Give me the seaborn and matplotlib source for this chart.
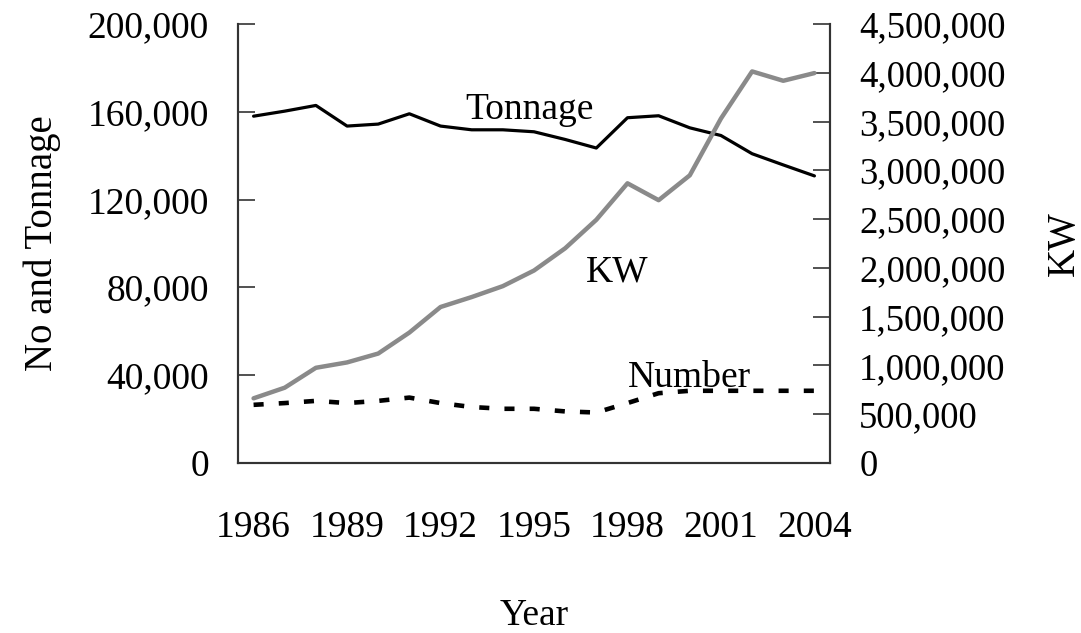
import numpy as np
import pandas as pd
import matplotlib
matplotlib.use('Agg')
import matplotlib.pyplot as plt
import seaborn as sns

years = list(range(1986, 2005))
tonnage = [158000, 160300, 162900, 153500, 154400, 159100, 153500, 151800, 151800, 150900,
           147400, 143500, 157300, 158200, 152700, 149200, 140900, 135800, 130800]
number = [26500, 27300, 28300, 27300, 28300, 29800, 27300, 25500, 24700, 24700,
          23500, 23000, 27300, 31800, 32900, 32900, 32900, 32900, 32900]
kw = [663000, 772000, 976000, 1031000, 1122000, 1337000, 1599000, 1701000, 1813000, 1973000,
      2201000, 2493000, 2867000, 2694000, 2949000, 3531000, 4014000, 3918000, 3997000]

left_ticks = [0, 40000, 80000, 120000, 160000, 200000]
right_ticks = list(range(0, 4500001, 500000))

df = pd.DataFrame({'Year': years, 'Tonnage': tonnage, 'Number': number, 'KW': kw})
df['pos'] = np.arange(len(df))

sns.set_style('white')
plt.rcParams['font.family'] = ['Liberation Serif', 'DejaVu Serif']
plt.rcParams.update({'text.color': 'black', 'axes.labelcolor': 'black',
                     'xtick.color': 'black', 'ytick.color': 'black'})
fs = 27

fig = plt.figure(figsize=(10.81, 6.33), dpi=100)
ax = fig.add_axes([238 / 1081, 1 - 463 / 633, (830 - 238) / 1081, (463 - 24) / 633])
ax2 = ax.twinx()

sns.lineplot(data=df, x='pos', y='Tonnage', ax=ax, color='black', linewidth=2.3)
sns.lineplot(data=df, x='pos', y='Number', ax=ax, color='black', linewidth=3.3,
             linestyle=(0, (2.2, 3.3)))
ax.lines[-1].set_dash_capstyle('butt')
sns.lineplot(data=df, x='pos', y='KW', ax=ax2, color='#8a8a8a', linewidth=3.2)

ax.set_xlim(-0.5, len(df) - 0.5)
ax.set_ylim(0, 200000)
ax2.set_ylim(0, 4500000)

ax.set_yticks(left_ticks)
ax.set_yticklabels([f'{v:,}' for v in left_ticks], fontsize=fs)
ax2.set_yticks(right_ticks)
ax2.set_yticklabels([f'{v:,}' for v in right_ticks], fontsize=fs - 0.5)

ax.set_xticks(df['pos'][::3])
ax.set_xticklabels(df['Year'][::3], fontsize=fs)
ax.set_xticks(np.arange(0.5, len(df) - 1, 1), minor=True)
ax.tick_params(axis='x', which='major', length=0, pad=34)
ax.tick_params(axis='x', which='minor', length=12, width=1.2, direction='in', color='#333333')
ax.tick_params(axis='y', length=12, width=1.2, direction='in', pad=21, color='#333333')
ax2.tick_params(axis='y', length=12, width=1.2, direction='in', pad=21, color='#333333')

for a in (ax, ax2):
    for s in a.spines.values():
        s.set_linewidth(1.5)
        s.set_color('#333333')
ax.spines['top'].set_visible(False)
ax2.spines['top'].set_visible(False)

ax.set_xlabel('Year', fontsize=fs, labelpad=39)
ax.set_ylabel('No and Tonnage', fontsize=fs + 1, labelpad=19)
ax2.set_ylabel('KW', fontsize=fs + 1, labelpad=29)

ax.text(8.87, 161000, 'Tonnage', fontsize=fs, ha='center', va='center')
ax.text(11.66, 87000, 'KW', fontsize=fs, ha='center', va='center')
ax.text(14.0, 38700, 'Number', fontsize=fs, ha='center', va='center')

fig.savefig('out.png', dpi=100)
